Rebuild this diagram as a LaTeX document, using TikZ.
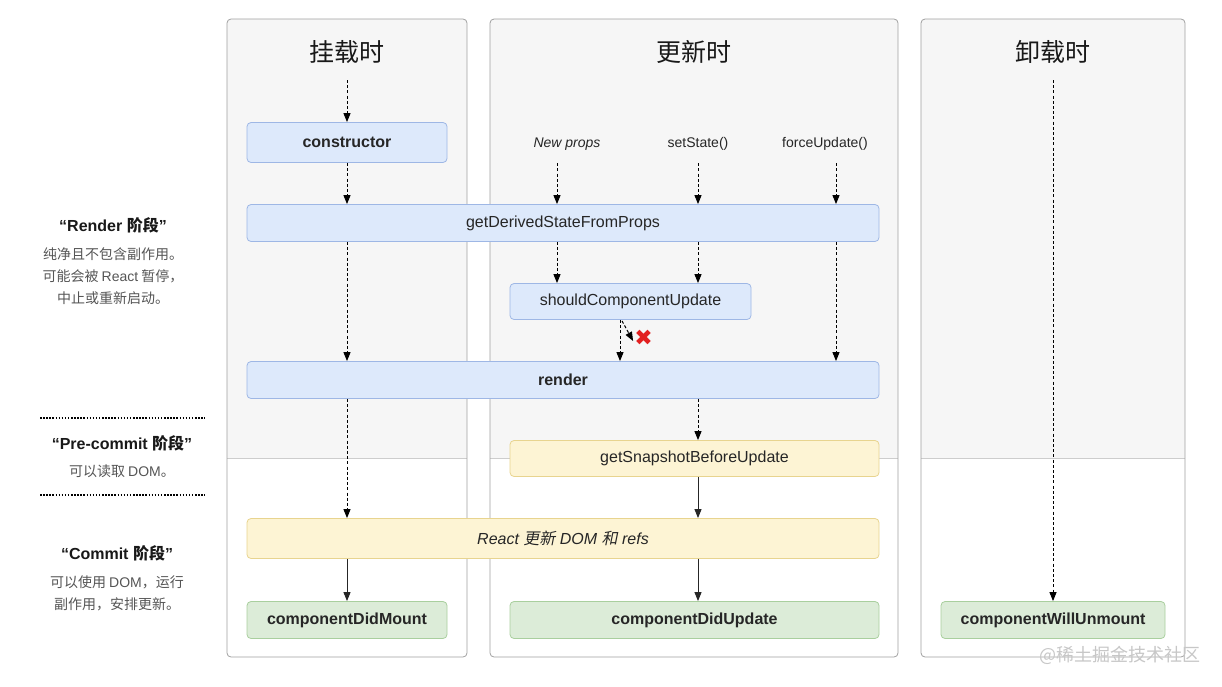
\documentclass[tikz,border=0pt]{standalone}
\usepackage{fontspec}
\setmainfont{Liberation Sans}
\newfontfamily\cjk{Noto Sans CJK SC}
\newfontfamily\cjkit[FakeSlant=0.2]{Noto Sans CJK SC}
\newfontfamily\symfont{DejaVu Sans}
\usetikzlibrary{arrows.meta, positioning, calc}
\definecolor{colfill}{RGB}{246, 246, 246}
\definecolor{colline}{RGB}{160, 160, 160}
\definecolor{colsep}{RGB}{205, 205, 205}
\definecolor{bluefill}{RGB}{221, 233, 251}
\definecolor{blueline}{RGB}{158, 183, 229}
\definecolor{yelfill}{RGB}{253, 244, 212}
\definecolor{yelline}{RGB}{232, 212, 143}
\definecolor{grnfill}{RGB}{220, 236, 216}
\definecolor{grnline}{RGB}{169, 207, 158}
\definecolor{notegray}{RGB}{85, 85, 85}
\definecolor{crossred}{RGB}{226, 32, 32}
\newcommand{\zh}[1]{{\cjk #1}}
\newcommand{\zhit}[1]{{\cjkit #1}}

\tikzset{
    phase/.style={draw, rounded corners=4pt, line width=0.8pt, minimum height=37pt,
        inner sep=0pt, font=\fontsize{16}{18}\selectfont, text=black!85},
    bluebox/.style={phase, fill=bluefill, draw=blueline},
    yelbox/.style={phase, fill=yelfill, draw=yelline},
    grnbox/.style={phase, fill=grnfill, draw=grnline, font=\bfseries\fontsize{16}{18}\selectfont},
    trigger/.style={minimum height=38pt, inner sep=0pt, font=\fontsize{14}{16}\selectfont, text=black!85},
    coltitle/.style={font=\cjk\fontsize{25}{28}\selectfont, text=black!90},
    stagetitle/.style={font=\bfseries\fontsize{16}{18}\selectfont, text=black!90},
    stagenote/.style={align=center, font=\cjk\fontsize{14}{22}\selectfont, text=notegray},
    dasharrow/.style={-{Triangle[length=9pt, width=7pt]}, dash pattern=on 3pt off 2.2pt, line width=1pt},
    solidarrow/.style={-{Triangle[length=9pt, width=7pt]}, line width=0.9pt, draw=black!85},
    stagesep/.style={line width=1.6pt, dash pattern=on 1.5pt off 1.6pt},
}

\begin{document}
\begin{tikzpicture}[x=1pt, y=-1pt]
    \useasboundingbox (0,0) rectangle (1222,686);

    % Column panels
    \foreach \l/\r in {227/467, 490/898, 921/1185} {
        \begin{scope}
            \clip[rounded corners=4pt] (\l,19) rectangle (\r,657);
            \fill[colfill] (\l,19) rectangle (\r,458);
        \end{scope}
        \draw[colsep, line width=0.8pt] (\l,458) -- (\r,458);
        \draw[colline, rounded corners=4pt, line width=0.8pt] (\l,19) rectangle (\r,657);
    }

    % Column titles
    \node[coltitle] (mountT) at (347,52) {挂载时};
    \node[coltitle] (updateT) at (694,52) {更新时};
    \node[coltitle] (unmountT) at (1053,52) {卸载时};

    % Lifecycle methods
    \node[bluebox, minimum width=200pt, minimum height=40pt, font=\bfseries\fontsize{16}{18}\selectfont] (cons) at (347,142.5) {constructor};
    \node[trigger, font=\itshape\fontsize{14}{16}\selectfont] (newprops) at (567,144) {New props};
    \node[trigger] (setstate) at (698,144) {setState()};
    \node[trigger] (forceupd) at (825,144) {forceUpdate()};
    \node[bluebox, minimum width=632pt] (gdsfp) at (563,223) {getDerivedStateFromProps};
    \node[bluebox, minimum width=241pt, minimum height=36pt] (scu) at (630.5,301.5) {shouldComponentUpdate};
    \node[text=crossred, font=\symfont\fontsize{22}{24}\selectfont, inner sep=0pt] (nox) at (643.5,338) {✖};
    \node[bluebox, minimum width=632pt, font=\bfseries\fontsize{16}{18}\selectfont] (render) at (563,380) {render};
    \node[yelbox, minimum width=369pt, minimum height=36pt] (gsbu) at (694.5,458.5) {getSnapshotBeforeUpdate};
    \node[yelbox, minimum width=632pt, minimum height=40pt, font=\itshape\fontsize{16}{18}\selectfont] (commit) at (563,538.5) {React \zhit{更新} DOM \zhit{和} refs};
    \node[grnbox, minimum width=200pt] (didMount) at (347,620) {componentDidMount};
    \node[grnbox, minimum width=369pt] (didUpdate) at (694.5,620) {componentDidUpdate};
    \node[grnbox, minimum width=224pt] (willUnmount) at (1053,620) {componentWillUnmount};

    % Stage notes
    \node[stagetitle] (renderT) at (113,225) {“Render \zh{阶段}”};
    \node[stagenote, below=8pt of renderT] (renderN) {纯净且不包含副作用。\\可能会被 {\rmfamily React} 暂停，\\中止或重新启动。};
    \coordinate (sepA1) at (40,418);
    \coordinate (sepA2) at (205,418);
    \draw[stagesep] (sepA1) -- (sepA2);
    \node[stagetitle] (precommitT) at (122,443) {“Pre-commit \zh{阶段}”};
    \node[stagenote, below=7pt of precommitT] (precommitN) {可以读取 {\rmfamily DOM}。};
    \coordinate (sepB1) at (40,495);
    \coordinate (sepB2) at (205,495);
    \draw[stagesep] (sepB1) -- (sepB2);
    \node[stagetitle] (commitT) at (117,553) {“Commit \zh{阶段}”};
    \node[stagenote, below=8pt of commitT] (commitN) {可以使用 {\rmfamily DOM}，运行\\副作用，安排更新。};

    % Mounting arrows
    \coordinate (mountS) at (347,80);
    \draw[dasharrow] (mountS) -- (cons.north);
    \draw[dasharrow] (cons.south) -- (gdsfp.north -| cons);
    \draw[dasharrow] (gdsfp.south -| cons) -- (render.north -| cons);
    \draw[dasharrow] (render.south -| cons) -- (commit.north -| cons);
    \draw[solidarrow] (commit.south -| cons) -- (didMount.north);

    % Updating arrows
    \coordinate (xa) at (557,0);
    \coordinate (xb) at (698,0);
    \coordinate (xc) at (836,0);
    \coordinate (xd) at (620,0);
    \draw[dasharrow] (newprops.south -| xa) -- (gdsfp.north -| xa);
    \draw[dasharrow] (setstate.south -| xb) -- (gdsfp.north -| xb);
    \draw[dasharrow] (forceupd.south -| xc) -- (gdsfp.north -| xc);
    \draw[dasharrow] (gdsfp.south -| xa) -- (scu.north -| xa);
    \draw[dasharrow] (gdsfp.south -| xb) -- (scu.north -| xb);
    \draw[dasharrow] (gdsfp.south -| xc) -- (render.north -| xc);
    \draw[dasharrow] (scu.south -| xd) -- (render.north -| xd);
    \draw[dasharrow] ($(scu.south -| xd)+(2,1)$) -- ($(nox.west)+(-1,3)$);
    \draw[dasharrow] (render.south -| xb) -- (gsbu.north -| xb);
    \draw[solidarrow] (gsbu.south -| xb) -- (commit.north -| xb);
    \draw[solidarrow] (commit.south -| xb) -- (didUpdate.north -| xb);

    % Unmounting arrow
    \coordinate (unmountS) at (1053,80);
    \draw[dasharrow] (unmountS) -- (willUnmount.north);

    % Watermark
    \node[text=black!22, font=\cjk\fontsize{18}{20}\selectfont] (mark) at (1120,655) {@稀土掘金技术社区};
\end{tikzpicture}
\end{document}
